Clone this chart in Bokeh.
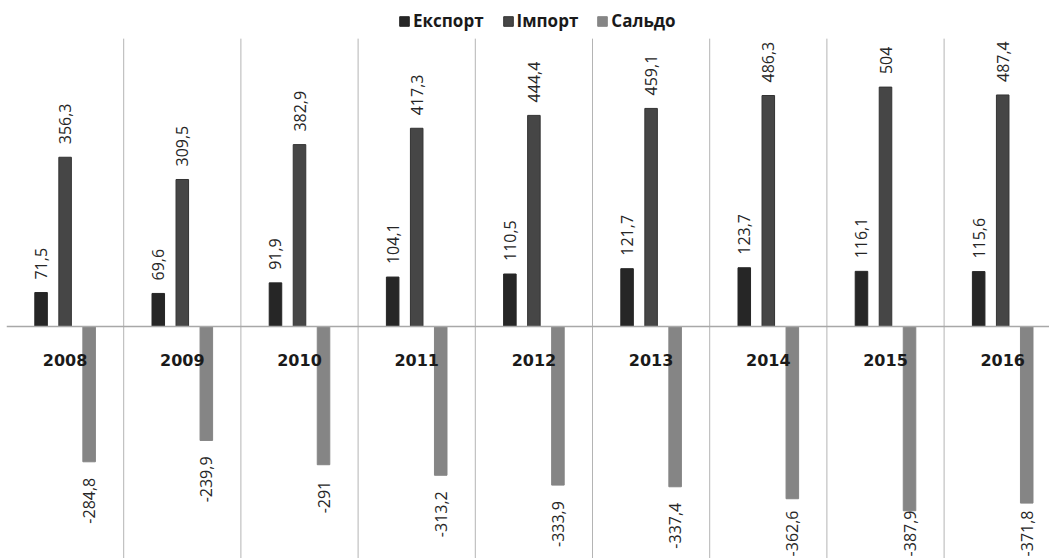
import math
from bokeh.plotting import figure
from bokeh.models import ColumnDataSource, Range1d, Span, Legend, LegendItem
from bokeh.transform import dodge
from bokeh.core.properties import value
from bokeh.embed import file_html
from bokeh.resources import INLINE

years = ["2008", "2009", "2010", "2011", "2012", "2013", "2014", "2015", "2016"]
export = [71.5, 69.6, 91.9, 104.1, 110.5, 121.7, 123.7, 116.1, 115.6]
imports = [356.3, 309.5, 382.9, 417.3, 444.4, 459.1, 486.3, 504, 487.4]
saldo = [-284.8, -239.9, -291, -313.2, -333.9, -337.4, -362.6, -387.9, -371.8]

series_names = ["Експорт", "Імпорт", "Сальдо"]
colors = ["#262626", "#464646", "#858585"]


def fmt(v):
    return f"{v:g}".replace(".", ",")


cat_px = 117.2
left_px = 6
W, H = 1049, 558
y_top, y_bottom = 686.3, -488.4
grid_top = 606.0
px_per_unit = H / (y_top - y_bottom)

# negative labels: keep a gap under the bar, but keep them inside the chart
label_len_px = 48
gap_px = 16
saldo_off = []
for v in saldo:
    bar_px = (y_top - v) * px_per_unit
    saldo_off.append(min(gap_px, (H - label_len_px) - bar_px))

xs = list(range(len(years)))
src = ColumnDataSource(dict(
    x=xs, year=years, zero=[0] * len(years),
    export=export, imports=imports, saldo=saldo,
    export_lbl=[fmt(v) for v in export],
    imports_lbl=[fmt(v) for v in imports],
    saldo_lbl=[fmt(v) for v in saldo],
    saldo_off=saldo_off,
))

p = figure(width=W, height=H, output_backend="svg", toolbar_location=None,
           x_range=Range1d(-0.5, -0.5 + (W - left_px) / cat_px),
           y_range=Range1d(y_bottom, y_top),
           min_border_left=left_px, min_border_right=0,
           min_border_top=0, min_border_bottom=0)
p.xaxis.visible = False
p.yaxis.visible = False
p.outline_line_color = None
p.xgrid.visible = False
p.ygrid.visible = False
p.background_fill_color = "white"
p.border_fill_color = "white"

# category separators (vertical grid lines)
bounds = [i + 0.5 for i in range(len(years))]
p.segment(x0=bounds, x1=bounds, y0=[grid_top] * len(bounds), y1=[y_bottom] * len(bounds),
          line_color="#b4b4b4", line_width=1)

off = 0.205
bw = 0.107
r1 = p.vbar(x=dodge("x", -off, range=p.x_range), top="export", width=bw, source=src,
            fill_color=colors[0], line_color=colors[0])
r2 = p.vbar(x=dodge("x", 0, range=p.x_range), top="imports", width=bw, source=src,
            fill_color=colors[1], line_color="#333333")
r3 = p.vbar(x=dodge("x", off, range=p.x_range), top="saldo", width=bw, source=src,
            fill_color=colors[2], line_color=colors[2])

p.add_layout(Span(location=0, dimension="width", line_color="#a8a8a8", line_width=1.5))

lbl_font = value("Open Sans")
common = dict(angle=math.pi / 2, text_baseline="middle", text_font=lbl_font,
              text_font_size="16px", text_color="#262626", source=src)
p.text(x=dodge("x", -off, range=p.x_range), y="export", text="export_lbl",
       text_align="left", y_offset=-13, **common)
p.text(x=dodge("x", 0, range=p.x_range), y="imports", text="imports_lbl",
       text_align="left", y_offset=-13, **common)
p.text(x=dodge("x", off, range=p.x_range), y="saldo", text="saldo_lbl",
       text_align="right", y_offset="saldo_off", **common)

p.text(x="x", y="zero", text="year", source=src, text_align="center",
       text_baseline="middle", y_offset=33, text_font=value("DejaVu Sans"),
       text_font_style="bold", text_font_size="16px", text_color="#1a1a1a")

legend = Legend(items=[LegendItem(label=series_names[0], renderers=[r1]),
                       LegendItem(label=series_names[1], renderers=[r2]),
                       LegendItem(label=series_names[2], renderers=[r3])],
                orientation="horizontal", location=(392, 526),
                label_text_font="Open Sans", label_text_font_style="bold",
                label_text_font_size="17px", label_text_color="#1a1a1a",
                glyph_width=12, glyph_height=12, label_standoff=3, spacing=18,
                label_height=22, padding=0, margin=0, border_line_color=None,
                background_fill_alpha=0)
p.add_layout(legend, "center")

open("out.html", "w").write(file_html(p, INLINE))
